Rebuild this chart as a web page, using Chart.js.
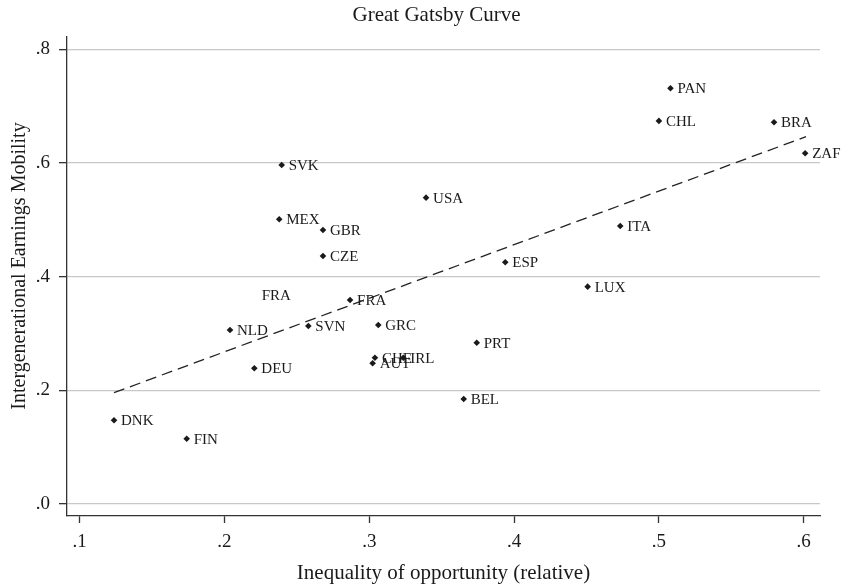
<!DOCTYPE html>
<html>
<head>
<meta charset="utf-8">
<script src="https://cdn.jsdelivr.net/npm/chart.js@4.4.1/dist/chart.umd.min.js"></script>
<style>
  html, body { margin: 0; padding: 0; background: #fff; }
  #wrap { width: 844px; height: 586px; }
</style>
</head>
<body>
<div id="wrap"><canvas id="c" width="844" height="586"></canvas></div>
<script>
// ---- data ----
const chartTitle = 'Great Gatsby Curve';
const xAxisTitle = 'Inequality of opportunity (relative)';
const yAxisTitle = 'Intergenerational Earnings Mobility';

const countries   = ['PAN','CHL','BRA','ZAF','SVK','MEX','GBR','USA','ITA','CZE','FRA','SVN','NLD','DEU','DNK','FIN','ESP','LUX','GRC','PRT','CHE','IRL','AUT','BEL'];
const opportunity = [0.508,0.500,0.5795,0.601,0.2395,0.2378,0.268,0.3392,0.4733,0.268,0.2867,0.2579,0.2038,0.2206,0.1237,0.1739,0.3939,0.4508,0.3062,0.3742,0.3039,0.3235,0.3023,0.3652];
const mobility    = [0.7315,0.674,0.6717,0.617,0.5965,0.501,0.482,0.539,0.489,0.4364,0.359,0.3132,0.3062,0.2388,0.1473,0.1149,0.4253,0.3824,0.315,0.2838,0.2574,0.2574,0.2476,0.1848];

// stray label without a marker
const extraLabels = ['FRA'];
const extraX = [0.2209];
const extraY = [0.3677];

// fitted line end points
const fitX = [0.1237, 0.6016];
const fitY = [0.1958, 0.6463];

const xTickValues = [0.1, 0.2, 0.3, 0.4, 0.5, 0.6];
const xTickLabels = ['.1', '.2', '.3', '.4', '.5', '.6'];
const yTickValues = [0, 0.2, 0.4, 0.6, 0.8];
const yTickLabels = ['.0', '.2', '.4', '.6', '.8'];

// ---- chart ----
const SERIF = "'Liberation Serif', 'Times New Roman', serif";
const INK = '#1a1a1a';

const pointData = countries.map((c, i) => ({ x: opportunity[i], y: mobility[i], label: c }));
const extraData = extraLabels.map((t, i) => ({ x: extraX[i], y: extraY[i], label: t }));
const fitData = fitX.map((x, i) => ({ x: x, y: fitY[i] }));

const labelPlugin = {
  id: 'pointLabels',
  afterDatasetsDraw(chart) {
    const ctx = chart.ctx;
    ctx.save();
    ctx.font = '15px ' + SERIF;
    ctx.fillStyle = INK;
    ctx.textAlign = 'left';
    ctx.textBaseline = 'middle';
    chart.data.datasets.forEach((ds, di) => {
      if (!ds.showLabels) return;
      const meta = chart.getDatasetMeta(di);
      meta.data.forEach((el, i) => {
        ctx.fillText(ds.data[i].label, el.x + 7, el.y + 1);
      });
    });
    ctx.restore();
  }
};

const titlePlugin = {
  id: 'stataTitles',
  afterDraw(chart) {
    const ctx = chart.ctx;
    const ca = chart.chartArea;
    ctx.save();
    ctx.fillStyle = INK;
    ctx.textAlign = 'center';
    ctx.textBaseline = 'alphabetic';
    ctx.font = '21px ' + SERIF;
    ctx.fillText(chartTitle, 436.5, 20.7);
    ctx.fillText(xAxisTitle, (ca.left + ca.right) / 2, 579.3);
    ctx.font = '20px ' + SERIF;
    ctx.translate(25, 266);
    ctx.rotate(-Math.PI / 2);
    ctx.fillText(yAxisTitle, 0, 0);
    ctx.restore();
  }
};

new Chart(document.getElementById('c'), {
  data: {
    datasets: [
      {
        type: 'line',
        data: fitData,
        borderColor: '#222',
        borderWidth: 1.3,
        borderDash: [11, 6],
        pointRadius: 0,
        fill: false,
        tension: 0
      },
      {
        type: 'scatter',
        data: pointData,
        showLabels: true,
        pointStyle: 'rectRot',
        pointRadius: 3.3,
        backgroundColor: INK,
        borderColor: INK,
        borderWidth: 0
      },
      {
        type: 'scatter',
        data: extraData,
        showLabels: true,
        pointRadius: 0,
        backgroundColor: 'rgba(0,0,0,0)',
        borderWidth: 0
      }
    ]
  },
  options: {
    responsive: false,
    animation: false,
    devicePixelRatio: 1,
    layout: { padding: { left: 0, right: 24, top: 37, bottom: 0 } },
    plugins: {
      legend: { display: false },
      title: { display: false },
      tooltip: { enabled: false }
    },
    scales: {
      x: {
        type: 'linear',
        position: 'bottom',
        min: 0.09123,
        max: 0.61126,
        afterBuildTicks: s => { s.ticks = xTickValues.map(v => ({ value: v })); },
        afterFit: s => { s.height = 70; },
        ticks: {
          callback: (v) => xTickLabels[xTickValues.findIndex(t => Math.abs(t - v) < 1e-9)],
          font: { family: SERIF, size: 19 },
          color: INK,
          padding: 8,
          maxRotation: 0,
          autoSkip: false
        },
        grid: {
          display: true,
          drawOnChartArea: false,
          drawTicks: true,
          tickLength: 7,
          tickColor: '#333',
          tickWidth: 1.3
        },
        border: { display: true, color: '#333', width: 1.3 }
      },
      y: {
        type: 'linear',
        position: 'left',
        min: -0.0211,
        max: 0.8216,
        afterBuildTicks: s => { s.ticks = yTickValues.map(v => ({ value: v })); },
        afterFit: s => { s.width = 67; },
        ticks: {
          callback: (v) => yTickLabels[yTickValues.findIndex(t => Math.abs(t - v) < 1e-9)],
          font: { family: SERIF, size: 19 },
          color: INK,
          padding: 9,
          autoSkip: false
        },
        grid: {
          display: true,
          drawOnChartArea: true,
          drawTicks: true,
          tickLength: 8,
          color: '#c8c8c8',
          lineWidth: 1.3,
          tickColor: '#333',
          tickWidth: 1.3
        },
        border: { display: true, color: '#333', width: 1.3 }
      }
    }
  },
  plugins: [labelPlugin, titlePlugin]
});
</script>
</body>
</html>
